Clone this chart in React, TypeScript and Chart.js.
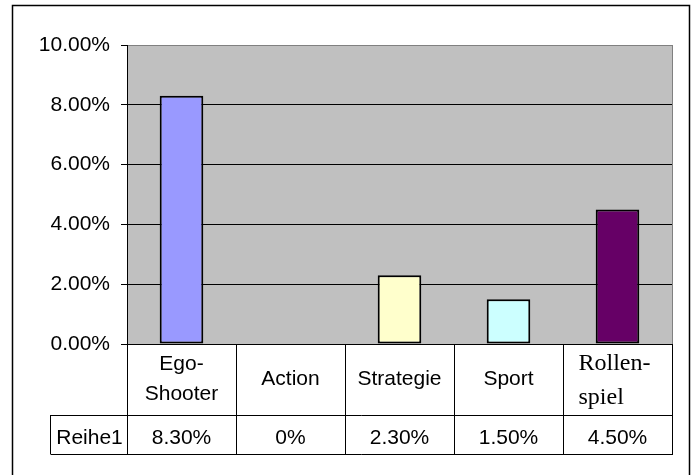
import React, { useEffect, useRef } from "react";
import { Chart, registerables } from "chart.js";

Chart.register(...registerables);

// ---- data ----
const categories = ["Ego-Shooter", "Action", "Strategie", "Sport", "Rollenspiel"];
const categoryLines = [["Ego-", "Shooter"], ["Action"], ["Strategie"], ["Sport"], ["Rollen-", "spiel"]];
const seriesName = "Reihe1";
const values = [8.3, 0, 2.3, 1.5, 4.5];
const tableLabels = ["8.30%", "0%", "2.30%", "1.50%", "4.50%"];
const barColors = ["#9999FF", "#993366", "#FFFFCC", "#CCFFFF", "#660066"];
const yTicks = [0, 2, 4, 6, 8, 10];

const SANS = '"Liberation Sans", Arial, sans-serif';
const SERIF = '"Liberation Serif", "Times New Roman", serif';

const W = 696;
const H = 475;
const HEADER_H = 71;
const VALUE_H = 39;
const TABLE_LEFT = 50;

const framePlugin = {
  id: "framePlugin",
  beforeDraw(chart: any) {
    const { ctx, chartArea } = chart;
    ctx.save();
    ctx.fillStyle = "#ffffff";
    ctx.fillRect(0, 0, chart.width, chart.height);
    ctx.fillStyle = "#C0C0C0";
    ctx.fillRect(chartArea.left, chartArea.top, chartArea.right - chartArea.left, chartArea.bottom - chartArea.top);
    ctx.restore();
  },
  afterDraw(chart: any) {
    const { ctx, chartArea, scales } = chart;
    const xs = scales.x;
    ctx.save();
    // outer frame
    ctx.strokeStyle = "#000";
    ctx.lineWidth = 1.5;
    ctx.beginPath();
    ctx.moveTo(12.5, H + 5);
    ctx.lineTo(12.5, 5.5);
    ctx.lineTo(689.5, 5.5);
    ctx.lineTo(689.5, H + 5);
    ctx.stroke();

    // plot area right border
    ctx.strokeStyle = "#808080";
    ctx.lineWidth = 1;
    ctx.beginPath();
    ctx.moveTo(Math.round(chartArea.right) + 0.5, chartArea.top);
    ctx.lineTo(Math.round(chartArea.right) + 0.5, chartArea.bottom);
    ctx.stroke();

    // data table
    const top = Math.round(chartArea.bottom);
    const rowY = top + HEADER_H;
    const bottom = rowY + VALUE_H;
    const left = Math.round(chartArea.left);
    const right = Math.round(chartArea.right);
    ctx.strokeStyle = "#000";
    ctx.lineWidth = 1;
    ctx.beginPath();
    for (let i = 0; i <= categories.length; i++) {
      const bx = Math.round(xs.getPixelForValue(i - 0.5)) + 0.5;
      ctx.moveTo(bx, top);
      ctx.lineTo(bx, bottom);
    }
    ctx.moveTo(TABLE_LEFT + 0.5, rowY + 0.5);
    ctx.lineTo(right + 1, rowY + 0.5);
    ctx.moveTo(TABLE_LEFT + 0.5, bottom + 0.5);
    ctx.lineTo(right + 1, bottom + 0.5);
    ctx.moveTo(TABLE_LEFT + 0.5, rowY);
    ctx.lineTo(TABLE_LEFT + 0.5, bottom);
    ctx.stroke();

    ctx.fillStyle = "#000";
    ctx.textBaseline = "alphabetic";
    categoryLines.forEach((lines, i) => {
      const cx = xs.getPixelForValue(i);
      if (i === 4) {
        ctx.font = `24px ${SERIF}`;
        const w = Math.max(...lines.map((l) => ctx.measureText(l).width));
        ctx.textAlign = "left";
        ctx.fillText(lines[0], cx - w / 2 - 3, top + 26);
        ctx.fillText(lines[1], cx - w / 2 - 3, top + 60);
      } else {
        ctx.font = `21px ${SANS}`;
        ctx.textAlign = "center";
        if (lines.length === 2) {
          ctx.fillText(lines[0], cx, top + 26);
          ctx.fillText(lines[1], cx, top + 56);
        } else {
          ctx.fillText(lines[0], cx, top + 41);
        }
      }
    });
    ctx.font = `21px ${SANS}`;
    ctx.textAlign = "center";
    tableLabels.forEach((t, i) => {
      ctx.fillText(t, xs.getPixelForValue(i), rowY + 29);
    });
    ctx.fillText(seriesName, (TABLE_LEFT + left) / 2 + 1, rowY + 29);
    ctx.restore();
  },
};

export default function App() {
  const ref = useRef<HTMLCanvasElement | null>(null);
  useEffect(() => {
    document.body.style.margin = "0";
    if (!ref.current) return;
    const chart = new Chart(ref.current, {
      type: "bar",
      data: {
        labels: categories,
        datasets: [
          {
            label: seriesName,
            data: values,
            backgroundColor: barColors,
            borderColor: "#000",
            borderWidth: values.map((v) => (v === 0 ? 0 : 2)),
            borderSkipped: false,
            categoryPercentage: 1,
            barPercentage: 0.4,
          },
        ],
      },
      options: {
        responsive: false,
        animation: false,
        devicePixelRatio: 1,
        layout: { padding: { left: 0, top: 45, right: 24, bottom: 0 } },
        plugins: { legend: { display: false }, tooltip: { enabled: false }, title: { display: false } },
        scales: {
          x: {
            ticks: { display: false },
            grid: { display: false },
            border: { display: true, color: "#000", width: 1 },
            afterFit: (s: any) => {
              s.height = 131;
            },
          },
          y: {
            min: 0,
            max: 10,
            afterBuildTicks: (s: any) => {
              s.ticks = yTicks.map((v) => ({ value: v }));
            },
            ticks: {
              color: "#000",
              font: { family: SANS, size: 21 },
              padding: 11,
              callback: (v: any) => Number(v).toFixed(2) + "%",
            },
            grid: {
              color: (c: any) => (c.tick && c.tick.value === 10 ? "#808080" : "#000"),
              tickColor: "#000",
              tickLength: 6,
              lineWidth: 1,
            },
            border: { display: true, color: "#000", width: 1 },
            afterFit: (s: any) => {
              s.width = 127;
            },
          },
        },
      },
      plugins: [framePlugin],
    });
    return () => chart.destroy();
  }, []);
  return <canvas ref={ref} width={W} height={H} style={{ display: "block", width: W, height: H }} />;
}
